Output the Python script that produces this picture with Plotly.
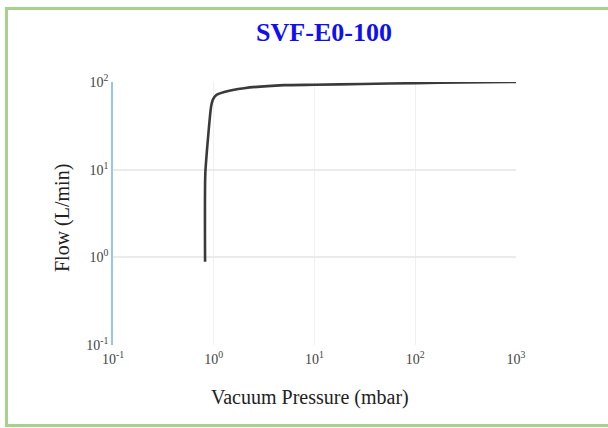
import plotly.graph_objects as go

# Data
pressure_mbar = [0.82, 0.825, 0.94, 0.98, 1.06, 1.27, 2.0, 5.0, 10, 30, 100, 300, 1000]
flow_lpm = [0.89, 9.1, 52, 63, 71, 77, 85, 92, 93, 95, 97, 99, 100]

x_tickvals = [0.1, 1, 10, 100, 1000]
x_ticktext = ["10<sup>-1</sup>", "10<sup>0</sup>", "10<sup>1</sup>", "10<sup>2</sup>", "10<sup>3</sup>"]
y_tickvals = [0.1, 1, 10, 100]
y_ticktext = ["10<sup>-1</sup>", "10<sup>0</sup>", "10<sup>1</sup>", "10<sup>2</sup>"]

title_text = "SVF-E0-100"
x_title = "Vacuum Pressure (mbar)"
y_title = "Flow (L/min)"

W, H = 608, 428
L, R, T, B = 113, 516, 82, 345  # plot area in pixels
pw, ph = R - L, B - T

def px_x(v):
    return (v - L) / pw

def px_y(v):
    return (B - v) / ph

serif = "Liberation Serif, Times New Roman, serif"

fig = go.Figure()
fig.add_trace(go.Scatter(
    x=pressure_mbar, y=flow_lpm, mode="lines",
    line=dict(color="#3a3a3a", width=2.6, shape="spline", smoothing=0.5),
    showlegend=False, hoverinfo="skip",
))

fig.update_layout(
    width=W, height=H,
    margin=dict(l=L, r=W - R, t=T, b=H - B),
    paper_bgcolor="white", plot_bgcolor="white",
    font=dict(family=serif, color="#333333"),
    title=dict(text="<b>" + title_text + "</b>", x=324 / W, xanchor="center",
               y=1 - 32 / H, yanchor="middle", yref="container",
               font=dict(family=serif, size=26, color="#1010ee")),
    xaxis=dict(type="log", range=[-1, 3], tickvals=x_tickvals, ticktext=x_ticktext,
               showgrid=True, gridcolor="#f0f0f0", gridwidth=1, zeroline=False,
               showline=False, ticks="", ticklabelstandoff=4,
               tickfont=dict(family=serif, size=14, color="#444444")),
    yaxis=dict(type="log", range=[-1, 2], tickvals=y_tickvals, ticktext=y_ticktext,
               showgrid=True, gridcolor="#ebebeb", gridwidth=1.5, zeroline=False,
               showline=True, linecolor="#9dc3e6", linewidth=1.5,
               ticks="", tickfont=dict(family=serif, size=14, color="#444444")),
    annotations=[
        dict(text=x_title, xref="paper", yref="paper", x=px_x(310), y=px_y(397),
             xanchor="center", yanchor="middle", showarrow=False,
             font=dict(family=serif, size=20, color="#222222")),
        dict(text=y_title, xref="paper", yref="paper", x=px_x(62), y=px_y(218),
             xanchor="center", yanchor="middle", showarrow=False, textangle=-90,
             font=dict(family=serif, size=20, color="#222222")),
    ],
    shapes=[
        dict(type="rect", xref="paper", yref="paper",
             x0=px_x(6.5), x1=px_x(614), y0=px_y(425.5), y1=px_y(8.5),
             line=dict(color="#a9d18e", width=3), fillcolor="rgba(0,0,0,0)", layer="below"),
    ],
)

fig.write_html("out.html", config={"displayModeBar": False},
               post_script="document.body.style.margin='0';")
